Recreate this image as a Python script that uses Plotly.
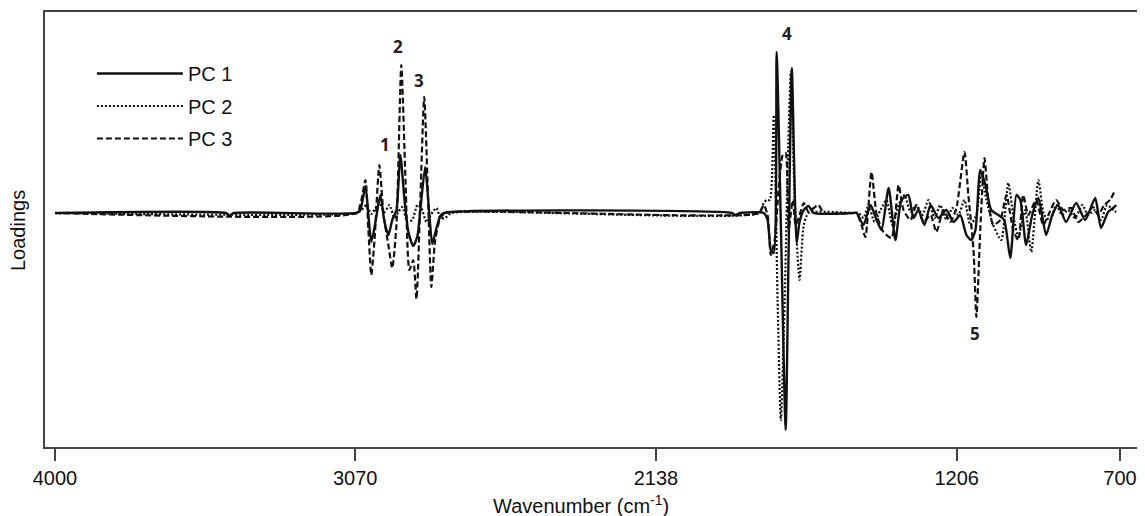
import plotly.graph_objects as go

# ---------------- data (wavenumber in cm-1, loading in arbitrary units) ----------------
pc1_wn = [4000, 3471, 3459, 3446, 3066, 3054, 3038, 3029, 3020, 3007, 2992, 2979, 2967, 2955,
          2942, 2930, 2917, 2905, 2890, 2877, 2868, 2853, 2840, 2831, 2818, 2806, 2794,
          1903, 1891, 1878, 1804, 1792, 1782, 1773, 1764, 1751, 1736, 1727, 1717, 1702, 1693,
          1680, 1665, 1649, 1526,
          1516, 1495, 1473, 1454, 1439, 1417, 1396, 1377, 1356, 1340, 1325, 1306, 1287, 1263,
          1238, 1216, 1195, 1176, 1161, 1148, 1133, 1117, 1099, 1077, 1059, 1040, 1021, 1009,
          991, 972, 953, 929, 910, 892, 867, 836, 808, 777, 759, 737, 721, 712]
pc1_ld = [0, 0, -0.0025, 0, 0, 0.003, 0.027, -0.002, -0.029, -0.009, 0.018, -0.009, -0.022, -0.007,
          0.003, 0.058, 0.013, -0.019, -0.033, -0.023, 0.003, 0.046, -0.002, -0.031, -0.015, -0.003, 0,
          0, -0.002, 0, 0, -0.007, -0.037, -0.040, 0.161, -0.010, -0.217, -0.040, 0.145, -0.030, -0.009,
          0.003, 0.007, 0, 0,
          0, -0.012, 0.008, -0.007, -0.017, 0.025, -0.027, 0.013, 0.018, -0.005, 0.003, -0.012, 0.008, -0.005,
          0.003, -0.009, -0.002, -0.022, -0.027, -0.017, 0.043, 0.028, 0.003, -0.002, -0.007, -0.045, 0.018, 0.013,
          -0.032, -0.002, 0.015, -0.022, -0.002, 0.008, -0.009, 0.010, -0.007, 0.015, -0.015, 0.001, 0.005, 0.008]

pc2_wn = [4000, 3066, 3050, 3035, 3020, 3007, 2995, 2979, 2964, 2948, 2936, 2924, 2908, 2893,
          2877, 2865, 2849, 2834, 2818, 2806, 2791, 2772,
          1819, 1804, 1795, 1785, 1773, 1761, 1751, 1739, 1730, 1720, 1708, 1693, 1680, 1665, 1526,
          1510, 1495, 1479, 1461, 1442, 1424, 1405, 1386, 1368, 1349, 1331, 1312, 1294, 1275,
          1257, 1238, 1219, 1201, 1182, 1164, 1145, 1130, 1114, 1093, 1068, 1046, 1031, 1015,
          994, 975, 953, 935, 916, 898, 879, 861, 839, 817, 799, 777, 759, 740, 721, 712]
pc2_ld = [0, 0, 0.003, 0.008, -0.001, 0.005, 0.010, 0.001, 0.008, -0.005, 0.001, 0.006, -0.009, -0.007,
          0.008, 0.005, -0.009, -0.001, 0.005, -0.005, -0.005, 0,
          0, 0.010, 0.013, 0.013, 0.098, -0.087, -0.207, -0.087, 0.043, 0.141, 0.013, -0.067, -0.012, 0, 0,
          0, -0.005, 0.008, -0.009, 0.003, 0.013, -0.012, 0.008, 0.018, 0.001, 0.008, -0.002, 0.013, -0.005,
          0.008, -0.007, 0.005, -0.002, 0.013, -0.012, -0.002, 0.038, 0.013, -0.012, -0.027, 0.030, -0.002, -0.024,
          0.003, -0.039, 0.033, -0.002, -0.007, 0.008, -0.002, 0.003, -0.005, 0.008, -0.002, 0.003, -0.007, 0.008,
          0.003, 0.001]

pc3_wn = [4000, 3066, 3054, 3038, 3029, 3020, 3010, 2995, 2982, 2967, 2955, 2942, 2927, 2914,
          2902, 2890, 2880, 2868, 2856, 2843, 2834, 2822, 2806, 2791,
          1819, 1804, 1792, 1782, 1770, 1758, 1745, 1736, 1727, 1714, 1705, 1693, 1680, 1665,
          1649, 1634, 1618, 1526,
          1516, 1501, 1489, 1470, 1454, 1433, 1408, 1386, 1371, 1349, 1331, 1309, 1287, 1269,
          1247, 1226, 1207, 1182, 1170, 1154, 1145, 1133, 1120, 1108, 1093, 1071, 1052, 1031,
          1015, 1000, 984, 960, 938, 922, 898, 876, 851, 830, 805, 783, 768, 749, 731, 715]
pc3_ld = [0, 0, 0.008, 0.033, -0.017, -0.062, -0.027, 0.048, -0.002, -0.032, -0.055, -0.012, 0.148, 0.033,
          -0.057, -0.047, -0.086, 0.013, 0.116, 0.003, -0.074, -0.027, -0.005, 0,
          0, 0.008, -0.002, -0.042, -0.027, 0.023, 0.058, 0.060, -0.017, 0.013, -0.012, -0.002, 0.010, 0.001,
          0.005, 0.008, 0, 0,
          0, -0.012, -0.024, 0.041, -0.002, -0.019, -0.025, 0.028, 0.003, -0.007, 0.008, -0.009, -0.002, -0.019,
          0.003, -0.009, 0.005, 0.061, 0.018, -0.037, -0.104, -0.017, 0.055, 0.013, -0.012, -0.007, 0.018, -0.017,
          -0.027, 0.018, -0.002, 0.013, -0.012, -0.002, 0.013, 0.003, 0.005, -0.009, -0.002, 0.006, -0.002, 0.008,
          0.013, 0.023]

series_names = ["PC 1", "PC 2", "PC 3"]

tick_vals = [4000, 3070, 2138, 1206, 700]
tick_text = ["4000", "3070", "2138", "1206", "700"]

peak_labels = ["1", "2", "3", "4", "5"]
peak_wn = [2976, 2936, 2871, 1733, 1148]
peak_ld = [0.069, 0.167, 0.133, 0.180, -0.120]

# ---------------- figure ----------------
FONT = "Liberation Sans, Arial, sans-serif"
ink = "#111111"
# the page body has an 8px default margin, so the figure is 8px smaller and margins shifted
W, H, OFF = 1145 - 8, 516 - 8, 8
ML, MR, MT, MB = 45 - OFF, 2, 12 - OFF, 69
PW, PH = W - ML - MR, H - MT - MB


def px_x(page_x):
    return (page_x - (ML + OFF)) / PW


def px_y(page_y):
    return 1 - (page_y - (MT + OFF)) / PH


fig = go.Figure()
styles = [dict(dash="solid", width=2.4), dict(dash="2px,2px", width=2.2), dict(dash="6px,3px", width=2.2)]
for name, xs, ys, st, g in zip(series_names, [pc1_wn, pc2_wn, pc3_wn], [pc1_ld, pc2_ld, pc3_ld], styles,
                               ["g1", "g2", "g3"]):
    fig.add_trace(go.Scatter(x=xs, y=ys, mode="lines", name=name, legendgroup=g,
                             line=dict(color=ink, width=st["width"], dash=st["dash"],
                                       shape="spline", smoothing=0.6)))

for t, x, y in zip(peak_labels, peak_wn, peak_ld):
    fig.add_annotation(x=x, y=y, text="<b>" + t + "</b>", showarrow=False,
                       font=dict(family="Noto Sans, DejaVu Sans, sans-serif", size=17, color="#222"),
                       xanchor="center", yanchor="middle")

fig.add_annotation(text="Loadings", textangle=-90, xref="paper", yref="paper",
                   x=px_x(18), y=px_y(231), showarrow=False, xanchor="center", yanchor="middle",
                   font=dict(family=FONT, size=20, color=ink))
fig.add_annotation(text="Wavenumber (cm<sup>-1</sup>)", xref="paper", yref="paper",
                   x=px_x(582), y=px_y(504), showarrow=False,
                   xanchor="center", yanchor="middle",
                   font=dict(family=FONT, size=20, color=ink))

fig.update_layout(
    width=W, height=H,
    margin=dict(l=ML, r=MR, t=MT, b=MB),
    paper_bgcolor="white", plot_bgcolor="white",
    font=dict(family=FONT, size=20, color=ink),
    showlegend=True,
    legend=dict(x=px_x(92), y=px_y(54), xanchor="left", yanchor="top",
                bgcolor="rgba(0,0,0,0)", font=dict(size=20, family=FONT, color=ink),
                tracegroupgap=3.5, itemwidth=86),
    xaxis=dict(range=[4031, 635], tickvals=tick_vals, ticktext=tick_text,
               showline=True, linecolor="#444", linewidth=1.5, mirror=True,
               ticks="outside", ticklen=12, tickwidth=1.5, tickcolor="#444",
               showgrid=False, zeroline=False, tickfont=dict(size=20)),
    yaxis=dict(range=[-0.234, 0.201], showline=True, linecolor="#444", linewidth=1.5, mirror=True,
               showticklabels=False, ticks="", showgrid=False, zeroline=False),
)

fig.write_html("out.html")
